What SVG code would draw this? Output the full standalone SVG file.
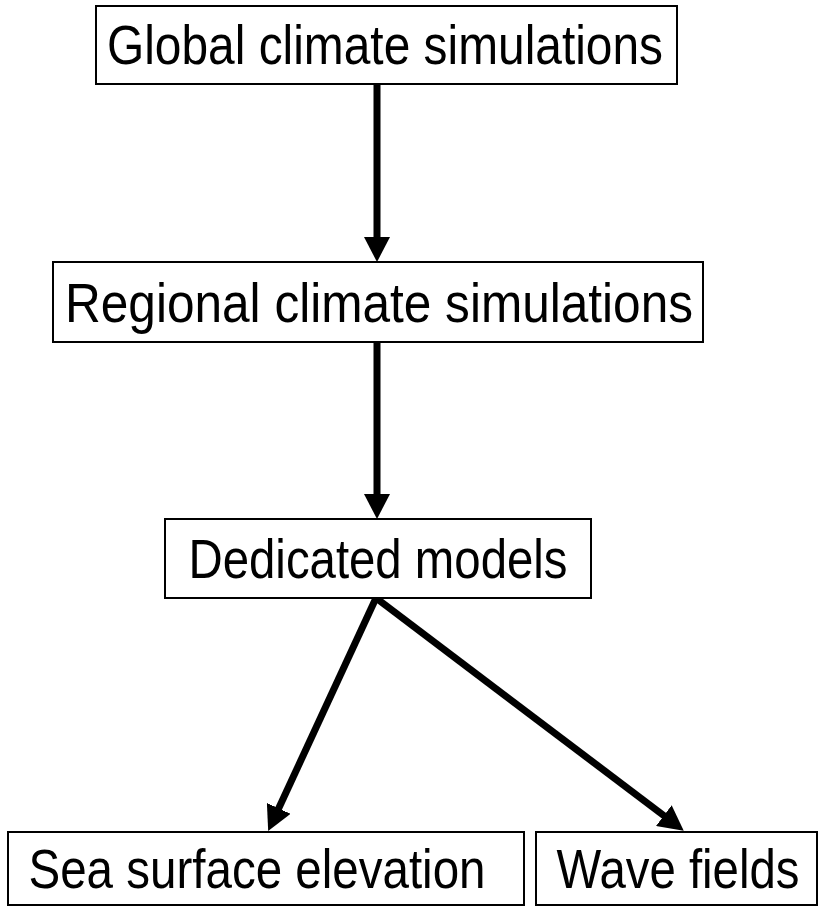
<svg xmlns="http://www.w3.org/2000/svg" width="820" height="910" viewBox="0 0 820 910">
<style>
.box{fill:#fff;stroke:#000;stroke-width:2}
.lbl{font-family:"Liberation Sans",Arial,sans-serif;font-size:55px;fill:#000;text-anchor:middle}
.edge{stroke:#000;stroke-width:7;fill:none}
</style>
<defs>
<marker id="ah" markerUnits="userSpaceOnUse" markerWidth="26" markerHeight="26" refX="4" refY="13" orient="auto">
<path d="M0,0 L25,13 L0,26 z" fill="#000"/>
</marker>
</defs>
<rect width="820" height="910" fill="#fff"/>
<g id="connectors">
<line class="edge" x1="377" y1="84" x2="377" y2="241" marker-end="url(#ah)"/>
<line class="edge" x1="377" y1="342" x2="377" y2="498" marker-end="url(#ah)"/>
<line class="edge" x1="376" y1="598" x2="277" y2="812" marker-end="url(#ah)"/>
<line class="edge" x1="376" y1="598" x2="667" y2="818" marker-end="url(#ah)"/>
</g>
<g id="global">
<rect class="box" x="96" y="6" width="581" height="78"/>
<text class="lbl" x="385" y="64" textLength="556" lengthAdjust="spacingAndGlyphs">Global climate simulations</text>
</g>
<g id="regional">
<rect class="box" x="53" y="262" width="650" height="80"/>
<text class="lbl" x="379" y="322" textLength="628" lengthAdjust="spacingAndGlyphs">Regional climate simulations</text>
</g>
<g id="dedicated">
<rect class="box" x="165" y="519" width="426" height="79"/>
<text class="lbl" x="378" y="578" textLength="379" lengthAdjust="spacingAndGlyphs">Dedicated models</text>
</g>
<g id="sea">
<rect class="box" x="8" y="832" width="516" height="73"/>
<text class="lbl" x="257" y="888" textLength="457" lengthAdjust="spacingAndGlyphs">Sea surface elevation</text>
</g>
<g id="wave">
<rect class="box" x="536" y="832" width="281" height="73"/>
<text class="lbl" x="678" y="888" textLength="243" lengthAdjust="spacingAndGlyphs">Wave fields</text>
</g>
</svg>
